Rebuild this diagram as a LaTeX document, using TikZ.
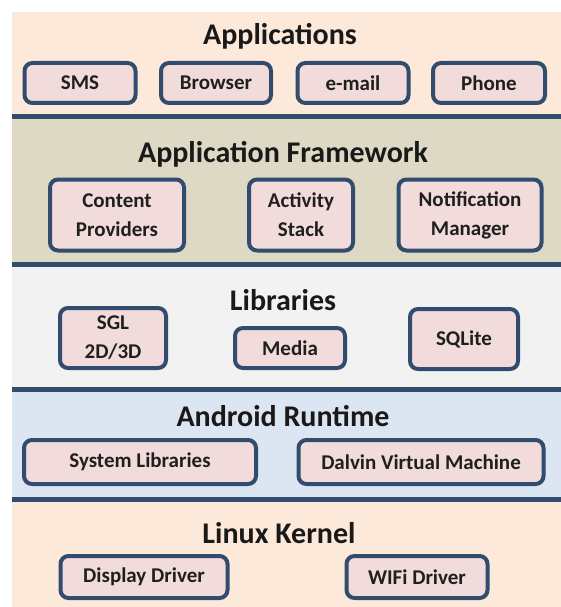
\documentclass[tikz,border=0pt]{standalone}
\usepackage{fontspec}
\setmainfont{Carlito}
\definecolor{peach}{RGB}{253,233,217}
\definecolor{khaki}{RGB}{221,217,196}
\definecolor{lightgrey}{RGB}{242,242,242}
\definecolor{paleblue}{RGB}{220,230,242}
\definecolor{boxpink}{RGB}{242,220,219}
\definecolor{edgeblue}{RGB}{50,76,110}
\tikzset{
  layertitle/.style={font=\fontsize{30}{36}\selectfont\bfseries, text=black!90},
  compbox/.style={draw=edgeblue, line width=4pt, fill=boxpink, rounded corners=8pt,
    align=center, inner sep=0pt, font=\fontsize{21}{29}\selectfont\bfseries, text=black!88},
  divider/.style={draw=edgeblue, line width=5pt}
}
\begin{document}
\begin{tikzpicture}[x=1pt,y=-1pt]
\useasboundingbox (0,0) rectangle (561,607);
% layer backgrounds
\fill[peach] (12,12) rectangle (561,117);
\fill[khaki] (12,117) rectangle (561,264);
\fill[lightgrey] (12,264) rectangle (561,389);
\fill[paleblue] (12,389) rectangle (561,499);
\fill[peach] (12,499) rectangle (561,607);
\foreach \y in {117,264,389,499} % edit here for the divider lines
\draw[divider] (12,\y) -- (561,\y);
% layer titles
\node[layertitle] (apps) at (280,36) {Applications};
\node[layertitle] (frame) at (283,154) {Application Framework};
\node[layertitle] (libs) at (283,300) {Libraries};
\node[layertitle] (runtime) at (283,416) {Android Runtime};
\node[layertitle] (kernel) at (279,533) {Linux Kernel};
\foreach \name/\x/\w/\txt in {sms/80/111/SMS, browser/216/110/Browser, email/353/111/e-mail, phone/489/112/Phone} % edit here for the application boxes
\node[compbox, minimum width=\w pt, minimum height=40pt] (\name) at (\x,83) {\txt};
\foreach \name/\x/\w/\txt in {content/117/134/{Content\\Providers}, activity/301/104/{Activity\\Stack}, notify/470/143/{Notification\\Manager}} % edit here for the framework boxes
\node[compbox, minimum width=\w pt, minimum height=71pt] (\name) at (\x,215) {\txt};
\node[compbox, minimum width=106pt, minimum height=60pt] (sgl) at (113,338) {SGL\\2D/3D};
\node[compbox, minimum width=110pt, minimum height=40pt] (media) at (290,348) {Media};
\node[compbox, minimum width=108pt, minimum height=60pt] (sqlite) at (464,339) {SQLite};
\foreach \name/\x/\w/\txt in {syslib/140/232/System Libraries, dalvin/421/245/Dalvin Virtual Machine} % edit here for the runtime boxes
\node[compbox, minimum width=\w pt, minimum height=44pt] (\name) at (\x,462) {\txt};
\foreach \name/\x/\w/\txt in {display/144/167/Display Driver, wifi/417/141/WIFi Driver} % edit here for the driver boxes
\node[compbox, minimum width=\w pt, minimum height=42pt] (\name) at (\x,577) {\txt};
\end{tikzpicture}
\end{document}
